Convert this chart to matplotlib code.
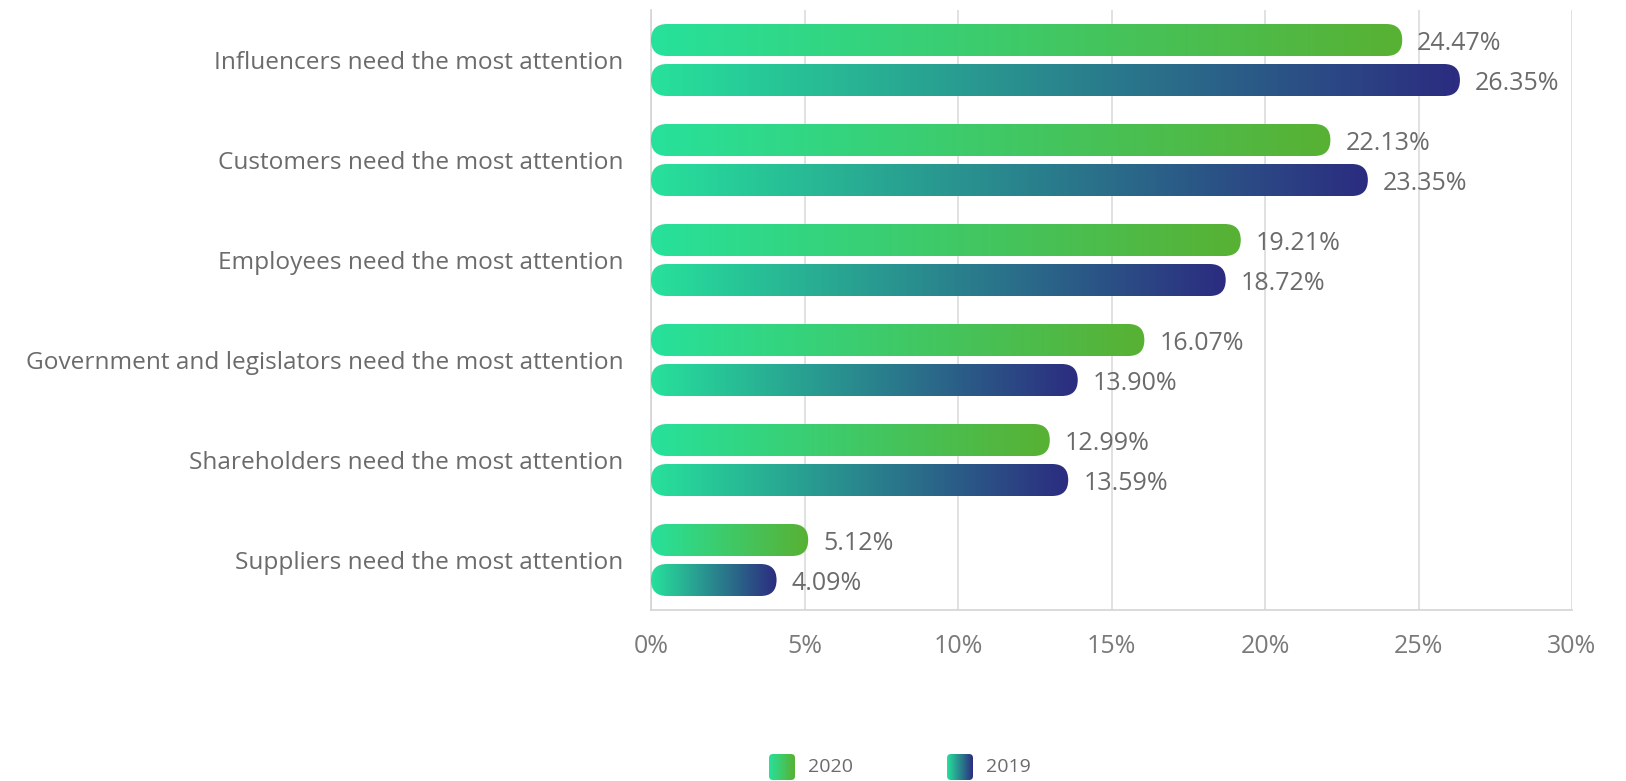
import numpy as np
import matplotlib.pyplot as plt
from matplotlib.patches import FancyBboxPatch
from matplotlib.colors import LinearSegmentedColormap

# dati
categorie = [
    "Influencers need the most attention",
    "Customers need the most attention",
    "Employees need the most attention",
    "Government and legislators need the most attention",
    "Shareholders need the most attention",
    "Suppliers need the most attention",
]
val_2020 = [24.47, 22.13, 19.21, 16.07, 12.99, 5.12]
val_2019 = [26.35, 23.35, 18.72, 13.90, 13.59, 4.09]
serie = ["2020", "2019"]
xticks = [0, 5, 10, 15, 20, 25, 30]

plt.rcParams['font.family'] = ['Open Sans', 'DejaVu Sans']
grigio = '#6b6b6b'

cmap_2020 = LinearSegmentedColormap.from_list('g2020', ['#27E19B', '#58B133'])
cmap_2019 = LinearSegmentedColormap.from_list('g2019', ['#27E19B', '#2C2C80'])
grad = np.linspace(0, 1, 256).reshape(1, -1)

W, H = 1626, 781
fig = plt.figure(figsize=(W / 100, H / 100), dpi=100)
ax = fig.add_axes([651 / W, (H - 610) / H, (1572 - 651) / W, 600 / H])
ax.set_xlim(0, 30)
ax.set_ylim(5.5, -0.5)

# rapporto tra unita' y e unita' x per arrotondare i bordi in modo uniforme
x_per_px = 30 / 921
y_per_px = 6 / 600
aspetto = y_per_px / x_per_px
alt = 0.32
raggio = (alt / 2) / aspetto


def barra_gradiente(a, x, y, h, cmap):
    patch = FancyBboxPatch((0, y - h / 2), x, h,
                           boxstyle=f"round,pad=0,rounding_size={raggio}",
                           mutation_aspect=aspetto, transform=a.transData,
                           facecolor='none', edgecolor='none')
    a.add_patch(patch)
    im = a.imshow(grad, cmap=cmap, aspect='auto', extent=[0, x, y + h / 2, y - h / 2],
                  interpolation='bilinear', zorder=3)
    im.set_clip_path(patch)


for i in range(len(categorie)):
    barra_gradiente(ax, val_2020[i], i - 0.2, alt, cmap_2020)
    barra_gradiente(ax, val_2019[i], i + 0.2, alt, cmap_2019)
    ax.text(val_2020[i] + 15 * x_per_px, i - 0.2, f"{val_2020[i]:.2f}%", va='center_baseline',
            ha='left', fontsize=18, color=grigio)
    ax.text(val_2019[i] + 15 * x_per_px, i + 0.2, f"{val_2019[i]:.2f}%", va='center_baseline',
            ha='left', fontsize=18, color=grigio)

ax.set_xlim(0, 30)
ax.set_ylim(5.5, -0.5)
ax.set_xticks(xticks)
ax.set_xticklabels([f"{t}%" for t in xticks])
ax.set_yticks(range(len(categorie)))
ax.set_yticklabels(categorie, va='center_baseline')
ax.tick_params(axis='x', length=0, pad=17, labelsize=18, labelcolor='#7a7a7a')
ax.tick_params(axis='y', length=0, pad=20, labelsize=17.6, labelcolor=grigio)
ax.grid(axis='x', color='#dcdcdc', linewidth=1.2, zorder=0)
ax.set_axisbelow(True)
for s in ['top', 'right']:
    ax.spines[s].set_visible(False)
for s in ['left', 'bottom']:
    ax.spines[s].set_color('#d4d4d4')
    ax.spines[s].set_linewidth(1.2)

# legenda disegnata in coordinate pixel
lg = fig.add_axes([0, 0, 1, 1], facecolor='none')
lg.set_xlim(0, W)
lg.set_ylim(H, 0)
lg.axis('off')
for x0, nome, cm in [(769, serie[0], cmap_2020), (947, serie[1], cmap_2019)]:
    p = FancyBboxPatch((x0, 754), 26, 26, boxstyle="round,pad=0,rounding_size=4",
                       facecolor='none', edgecolor='none')
    lg.add_patch(p)
    im = lg.imshow(grad, cmap=cm, aspect='auto', extent=[x0, x0 + 26, 780, 754],
                   interpolation='bilinear')
    im.set_clip_path(p)
    lg.text(x0 + 39, 767, nome, va='center', ha='left', fontsize=14, color=grigio)
lg.set_xlim(0, W)
lg.set_ylim(H, 0)

fig.savefig('out.png', dpi=100)
